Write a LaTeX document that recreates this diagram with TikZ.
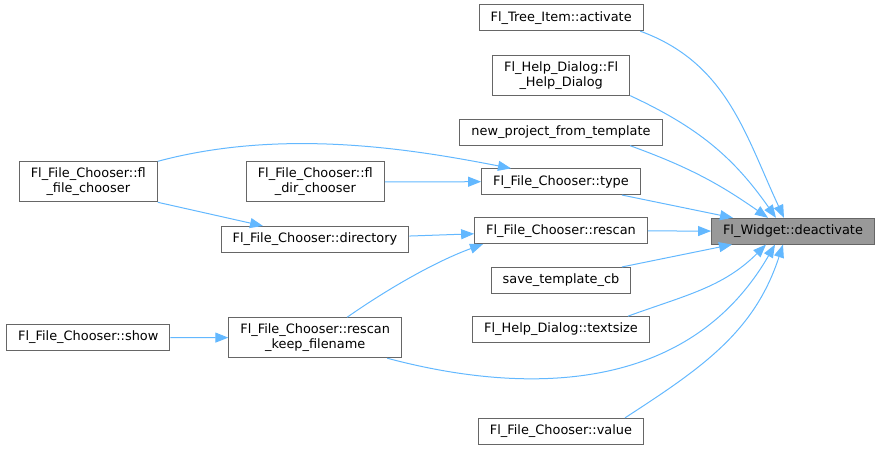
\documentclass[tikz,border=0pt]{standalone}
\usepackage{fontspec}
\setmainfont{DejaVu Sans}
\usepackage{tikz}
\usepackage{xcolor}
\usetikzlibrary{arrows.meta}
\definecolor{calledge}{HTML}{63B8FF}
\definecolor{boxline}{HTML}{666666}
\definecolor{selffill}{HTML}{999999}

\begin{document}
\begin{tikzpicture}[x=1pt,y=1pt]
            \tikzstyle{every node}+=[inner sep=0pt]
            \tikzstyle{fnbox}=[draw=boxline, line width=1pt, fill=white, inner xsep=11.5pt, minimum height=25.7pt, align=center, font=\fontsize{12.9}{15}\selectfont]
            \tikzstyle{twoline}=[minimum height=40pt]
            \tikzstyle{callline}=[draw=calledge, line width=1pt, -{Triangle[length=13pt,width=10pt]}]
            \useasboundingbox (0,0) rectangle (881,-449);
            \node[fnbox] (treeact) at (561.2,-17.8) {Fl\_Tree\_Item::activate};
            \node[fnbox,twoline] (helpdlg) at (561.2,-75.2) {Fl\_Help\_Dialog::Fl\\\_Help\_Dialog};
            \node[fnbox] (newproj) at (561,-132.3) {new\_project\_from\_template};
            \node[fnbox] (fctype) at (561,-181.7) {Fl\_File\_Chooser::type};
            \node[fnbox] (fcrescan) at (561,-230.8) {Fl\_File\_Chooser::rescan};
            \node[fnbox] (savetpl) at (561,-280.3) {save\_template\_cb};
            \node[fnbox] (helpsize) at (561,-329.5) {Fl\_Help\_Dialog::textsize};
            \node[fnbox] (fcvalue) at (561,-431.2) {Fl\_File\_Chooser::value};
            \node[fnbox,fill=selffill] (deact) at (793,-231.2) {Fl\_Widget::deactivate};
            \node[fnbox,twoline] (filechooser) at (88.3,-181.8) {Fl\_File\_Chooser::fl\\\_file\_chooser};
            \node[fnbox,twoline] (dirchooser) at (315.3,-182) {Fl\_File\_Chooser::fl\\\_dir\_chooser};
            \node[fnbox] (fcdir) at (315,-239.3) {Fl\_File\_Chooser::directory};
            \node[fnbox] (fcshow) at (88.3,-337.5) {Fl\_File\_Chooser::show};
            \node[fnbox,twoline] (rescankeep) at (315.2,-337.7) {Fl\_File\_Chooser::rescan\\\_keep\_filename};
            \draw[callline] ([xshift=79]treeact.south) to[out=-20,in=115] ([xshift=-9]deact.north);
            \draw[callline] (helpdlg.south east) to[out=-25,in=125] ([xshift=-17]deact.north);
            \draw[callline] ([xshift=69]newproj.south) to[out=-20,in=145] ([xshift=-25]deact.north);
            \draw[callline] ([xshift=61]fctype.south) -- ([xshift=-60]deact.north);
            \draw[callline] (fcrescan) -- (deact);
            \draw[callline] ([xshift=61]savetpl.north) -- ([xshift=-61]deact.south);
            \draw[callline] ([xshift=67]helpsize.north) to[out=20,in=-135] ([xshift=-27]deact.south);
            \draw[callline] ([xshift=72]rescankeep.south) .. controls +(-15:130) and +(-120:180) .. ([xshift=-18]deact.south);
            \draw[callline] ([xshift=64]fcvalue.north) to[out=33,in=-108] ([xshift=-10]deact.south);
            \draw[callline] (filechooser.north east) .. controls +(15:130) and +(169:100) .. ([xshift=-50]fctype.north);
            \draw[callline] (dirchooser.east) -- (fctype.west);
            \draw[callline] (filechooser.south east) -- ([xshift=-52]fcdir.north);
            \draw[callline] (fcdir) -- (fcrescan);
            \draw[callline] ([xshift=32]rescankeep.north) .. controls +(35:50) and +(-160:50) .. ([xshift=-78]fcrescan.south);
            \draw[callline] (fcshow) -- (rescankeep);
        \end{tikzpicture}
\end{document}
